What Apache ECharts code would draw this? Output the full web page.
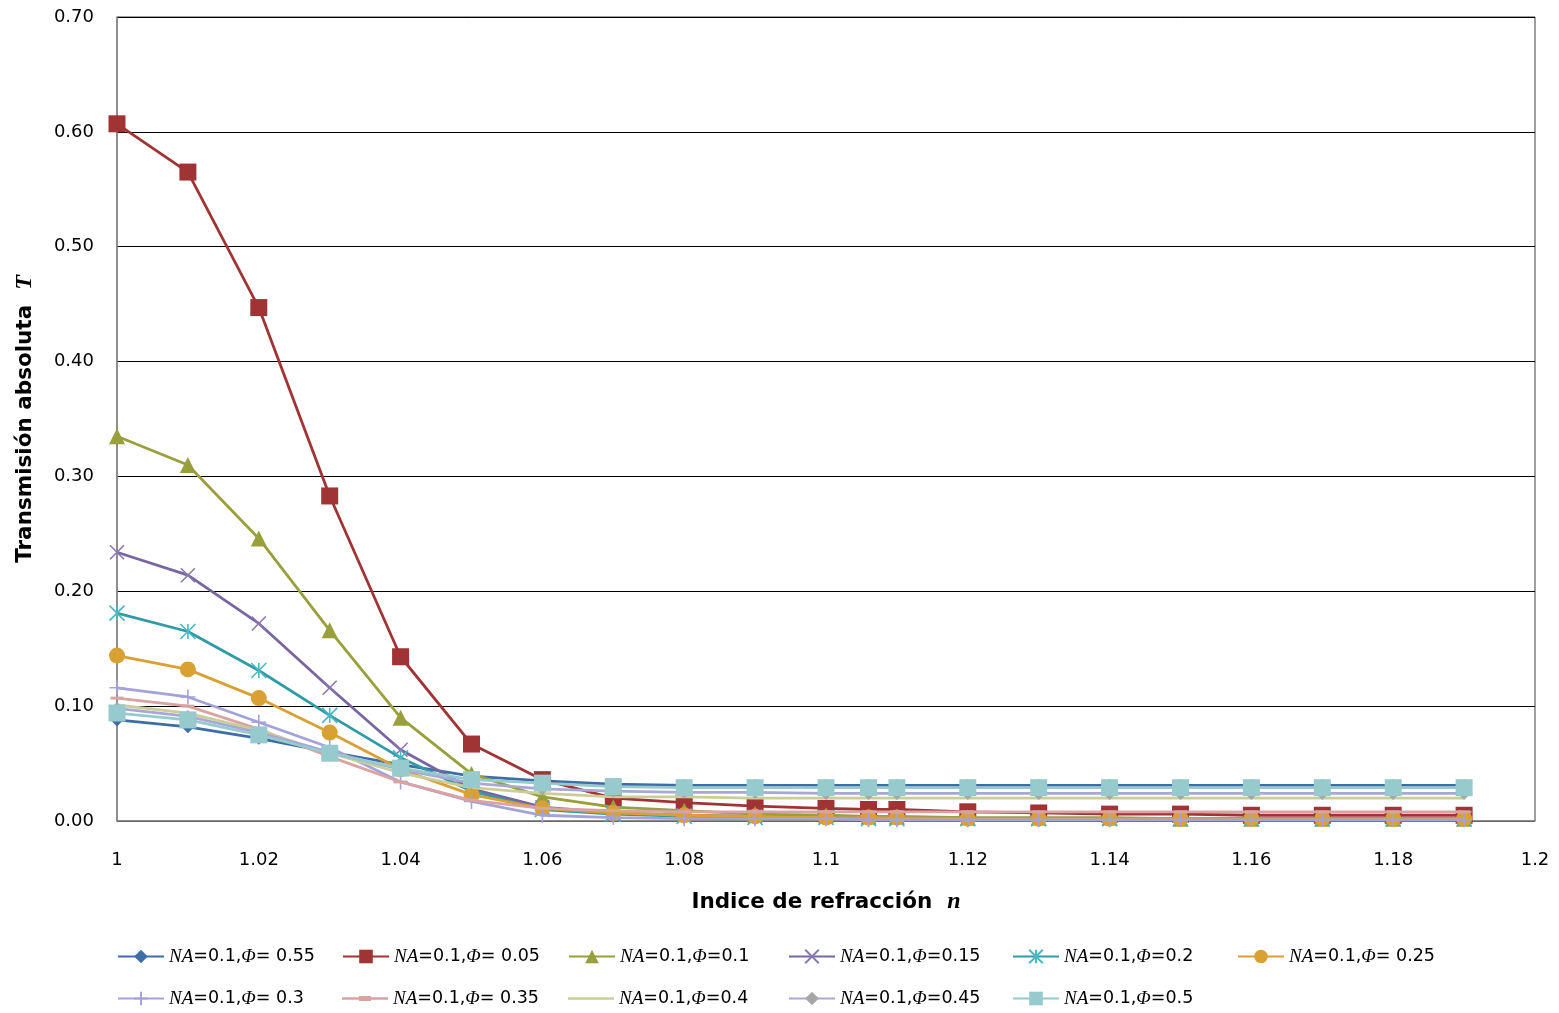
<!DOCTYPE html>
<html>
<head>
<meta charset="utf-8">
<script src="https://cdn.jsdelivr.net/npm/echarts@6/dist/echarts.min.js"></script>
<style>
html,body{margin:0;padding:0;background:#fff;}
#chart{width:1559px;height:1013px;}
</style>
</head>
<body>
<div id="chart"></div>
<script>
// Refractive index n (x values)
const nValues = [1, 1.01, 1.02, 1.03, 1.04, 1.05, 1.06, 1.07, 1.08, 1.09, 1.1, 1.106, 1.11, 1.12, 1.13, 1.14, 1.15, 1.16, 1.17, 1.18, 1.19];

// Series names (legend order)
const seriesNames = [
  'NA=0.1,Φ= 0.55', 'NA=0.1,Φ= 0.05', 'NA=0.1,Φ=0.1', 'NA=0.1,Φ=0.15',
  'NA=0.1,Φ=0.2', 'NA=0.1,Φ= 0.25', 'NA=0.1,Φ= 0.3', 'NA=0.1,Φ= 0.35',
  'NA=0.1,Φ=0.4', 'NA=0.1,Φ=0.45', 'NA=0.1,Φ=0.5'
];

// Absolute transmission T per series
const tPhi055 = [0.088, 0.082, 0.072, 0.060, 0.049, 0.039, 0.035, 0.032, 0.031, 0.031, 0.031, 0.031, 0.031, 0.031, 0.031, 0.031, 0.031, 0.031, 0.031, 0.031, 0.031];
const tPhi005 = [0.607, 0.565, 0.447, 0.283, 0.143, 0.067, 0.036, 0.020, 0.016, 0.013, 0.011, 0.010, 0.010, 0.008, 0.007, 0.006, 0.006, 0.005, 0.005, 0.005, 0.005];
const tPhi010 = [0.335, 0.310, 0.246, 0.166, 0.090, 0.041, 0.021, 0.012, 0.009, 0.006, 0.005, 0.004, 0.004, 0.003, 0.003, 0.003, 0.002, 0.002, 0.002, 0.002, 0.002];
const tPhi015 = [0.234, 0.214, 0.172, 0.116, 0.062, 0.028, 0.012, 0.007, 0.005, 0.004, 0.003, 0.003, 0.003, 0.002, 0.002, 0.002, 0.002, 0.002, 0.002, 0.002, 0.002];
const tPhi020 = [0.181, 0.165, 0.131, 0.092, 0.055, 0.026, 0.010, 0.006, 0.004, 0.003, 0.003, 0.002, 0.002, 0.002, 0.002, 0.002, 0.002, 0.002, 0.002, 0.002, 0.002];
const tPhi025 = [0.144, 0.132, 0.107, 0.077, 0.045, 0.023, 0.011, 0.007, 0.005, 0.004, 0.003, 0.003, 0.003, 0.002, 0.002, 0.002, 0.002, 0.002, 0.002, 0.002, 0.002];
const tPhi030 = [0.116, 0.108, 0.086, 0.064, 0.034, 0.017, 0.005, 0.003, 0.002, 0.002, 0.002, 0.001, 0.001, 0.001, 0.001, 0.001, 0.001, 0.001, 0.001, 0.001, 0.001];
const tPhi035 = [0.107, 0.100, 0.080, 0.056, 0.034, 0.018, 0.011, 0.009, 0.008, 0.008, 0.008, 0.008, 0.008, 0.008, 0.008, 0.008, 0.008, 0.008, 0.008, 0.008, 0.008];
const tPhi040 = [0.101, 0.094, 0.079, 0.059, 0.042, 0.029, 0.024, 0.021, 0.021, 0.020, 0.020, 0.020, 0.020, 0.020, 0.020, 0.020, 0.020, 0.020, 0.020, 0.020, 0.020];
const tPhi045 = [0.098, 0.091, 0.077, 0.060, 0.045, 0.033, 0.028, 0.026, 0.025, 0.025, 0.024, 0.024, 0.024, 0.024, 0.024, 0.024, 0.024, 0.024, 0.024, 0.024, 0.024];
const tPhi050 = [0.094, 0.088, 0.075, 0.059, 0.046, 0.036, 0.033, 0.030, 0.029, 0.029, 0.029, 0.029, 0.029, 0.029, 0.029, 0.029, 0.029, 0.029, 0.029, 0.029, 0.029];

const seriesValues = [tPhi055, tPhi005, tPhi010, tPhi015, tPhi020, tPhi025, tPhi030, tPhi035, tPhi040, tPhi045, tPhi050];

// styles
const styles = [
  {line: '#3F6EA6', fill: '#3F6EA6', symbol: 'diamond', size: 13},
  {line: '#A03333', fill: '#A03333', symbol: 'rect', size: 17},
  {line: '#97A03A', fill: '#97A03A', symbol: 'triangle', size: 16},
  {line: '#7866A0', fill: 'none', border: '#8A78B2', symbol: 'path://M0 0 L10 10 M10 0 L0 10', size: 14},
  {line: '#2E9BA6', fill: 'none', border: '#48B8C2', symbol: 'path://M5 0 L5 10 M0 0 L10 10 M10 0 L0 10', size: 15},
  {line: '#D9A033', fill: '#D9A033', symbol: 'circle', size: 16},
  {line: '#A3A3D9', fill: 'none', border: '#A3A3D9', symbol: 'path://M5 0 L5 10 M0 5 L10 5', size: 15},
  {line: '#D9A3A3', fill: '#D9A3A3', symbol: 'rect', size: [13, 3]},
  {line: '#CBCD99', fill: '#CBCD99', symbol: 'none', size: 0},
  {line: '#A8A8D6', fill: '#A6A6A6', symbol: 'diamond', size: 13},
  {line: '#96CACD', fill: '#96CACD', symbol: 'rect', size: 17}
];

const series = seriesNames.map((name, i) => {
  const s = styles[i];
  const item = s.fill === 'none'
    ? {color: s.border, borderColor: s.border, borderWidth: 1.6}
    : {color: s.fill, borderWidth: 0};
  return {
    name: name,
    type: 'line',
    data: nValues.map((n, k) => [n, seriesValues[i][k]]),
    symbol: s.symbol,
    symbolSize: s.size,
    showSymbol: s.symbol !== 'none',
    lineStyle: {color: s.line, width: 2.8},
    itemStyle: item,
    emphasis: {disabled: true},
    animation: false,
    z: 2 + i
  };
});

const legendFormatter = name => name.replace('NA', '{i|NA}').replace('Φ', '{i|Φ}');
const legendText = {
  fontFamily: 'DejaVu Sans',
  fontSize: 17.5,
  color: '#000',
  rich: {
    i: {fontFamily: 'Liberation Serif', fontStyle: 'italic', fontSize: 19, color: '#000'}
  }
};
const legendCols = [117, 342, 568, 788, 1012, 1237];
const legendRows = [947, 989];
const legendIcons = {
  7: 'path://M0 6.2 H46 V8.8 H0 Z M17 5 H29 V10 H17 Z',
  8: 'path://M0 6.2 H46 V8.8 H0 Z'
};
const legends = seriesNames.map((name, i) => {
  const entry = legendIcons[i] ? {name: name, icon: legendIcons[i]} : {name: name};
  return {
    orient: 'horizontal',
    left: legendCols[i % 6],
    top: legendRows[Math.floor(i / 6)],
    padding: 0,
    itemWidth: 46,
    itemHeight: 17,
    formatter: legendFormatter,
    textStyle: legendText,
    selectedMode: false,
    data: [entry]
  };
});

const chart = echarts.init(document.getElementById('chart'), null, {renderer: 'canvas'});
chart.setOption({
  backgroundColor: '#fff',
  animation: false,
  grid: {left: 117, right: 24, top: 17, bottom: 192, show: true, borderColor: '#404040', borderWidth: 1},
  legend: legends,
  xAxis: {
    type: 'value',
    min: 1, max: 1.2, interval: 0.02,
    name: '{b|Indice de refracción  }{n|n}',
    nameLocation: 'middle',
    nameGap: 69,
    nameTextStyle: {
      rich: {
        b: {fontFamily: 'DejaVu Sans', fontWeight: 'bold', fontSize: 21.5, color: '#000'},
        n: {fontFamily: 'Liberation Serif', fontStyle: 'italic', fontWeight: 'bold', fontSize: 24, color: '#000'}
      }
    },
    axisLine: {show: true, lineStyle: {color: '#888', width: 1.5}},
    axisTick: {show: false},
    splitLine: {show: false},
    axisLabel: {
      margin: 30,
      fontFamily: 'DejaVu Sans', fontSize: 18, color: '#000',
      formatter: v => String(+v.toFixed(2))
    }
  },
  yAxis: {
    type: 'value',
    min: 0, max: 0.7, interval: 0.1,
    name: '{b|Transmisión absoluta  }{n|T}',
    nameLocation: 'middle',
    nameGap: 80,
    nameRotate: 90,
    nameTextStyle: {
      rich: {
        b: {fontFamily: 'DejaVu Sans', fontWeight: 'bold', fontSize: 21.5, color: '#000'},
        n: {fontFamily: 'Liberation Serif', fontStyle: 'italic', fontWeight: 'bold', fontSize: 24, color: '#000'}
      }
    },
    axisLine: {show: true, lineStyle: {color: '#888', width: 1.5}},
    axisTick: {show: false},
    splitLine: {show: true, lineStyle: {color: '#000', width: 1.2}},
    axisLabel: {
      margin: 23,
      fontFamily: 'DejaVu Sans', fontSize: 18, color: '#000',
      formatter: v => v.toFixed(2)
    }
  },
  series: series
});
</script>
</body>
</html>
